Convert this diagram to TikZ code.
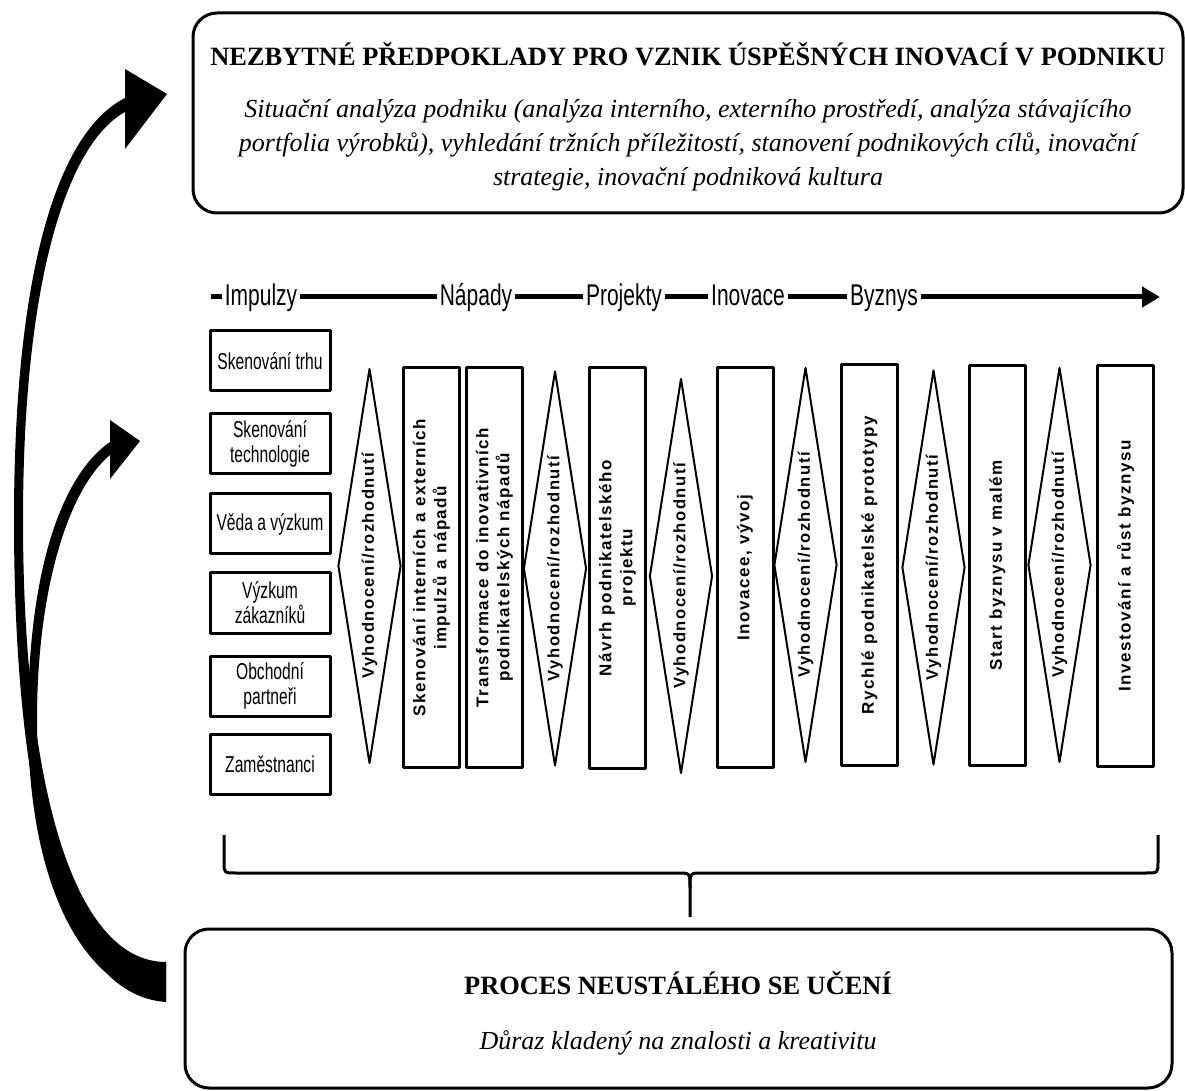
\documentclass[tikz,border=0pt]{standalone}
\usepackage{fontspec}
\setmainfont{Liberation Serif}
\newfontfamily\narrowsans[FakeStretch=0.7]{Liberation Sans}
\newfontfamily\tightsans[FakeStretch=0.68]{Liberation Sans}
\newfontfamily\spacedsans[LetterSpace=9]{Liberation Sans}
\usetikzlibrary{arrows.meta,shapes.geometric}

\begin{document}
\begin{tikzpicture}[x=0.5pt,y=-0.5pt,line join=round,
  bigbox/.style={draw,line width=1.5pt,rounded corners=12pt,inner sep=0pt},
  srcbox/.style={draw,line width=1.5pt,minimum width=60pt,minimum height=30pt,inner sep=1pt,align=center,
    font=\tightsans\fontsize{11.5}{12.5}\selectfont},
  stagebox/.style={draw,line width=1.5pt,rotate=90,minimum width=200pt,minimum height=28pt,inner sep=1pt,align=center,
    font=\spacedsans\bfseries\fontsize{8.5}{10.5}\selectfont},
  gate/.style={draw,diamond,line width=1pt,rotate=90,aspect=6.3,minimum width=197.5pt,minimum height=31.5pt,inner sep=0pt,
    font=\spacedsans\bfseries\fontsize{8.3}{10}\selectfont},
  phase/.style={fill=white,inner sep=1.5pt,anchor=base,font=\narrowsans\fontsize{15}{16}\selectfont}]
  \useasboundingbox (0,0) rectangle (1185,1091);
  % horni ramec
  \node[bigbox,minimum width=495pt,minimum height=100pt] (pre) at (688,113) {};
  \node[font=\bfseries\fontsize{13.2}{15}\selectfont] (pretitle) at (688,54)
    {NEZBYTNÉ PŘEDPOKLADY PRO VZNIK ÚSPĚŠNÝCH INOVACÍ V PODNIKU};
  \node[font=\itshape\fontsize{13}{17}\selectfont,align=center] (pretext) at (688,145)
    {Situační analýza podniku (analýza interního, externího prostředí, analýza stávajícího\\
     portfolia výrobků), vyhledání tržních příležitostí, stanovení podnikových cílů, inovační\\
     strategie, inovační podniková kultura};
  % faze
  \coordinate (flowstart) at (211,297);
  \coordinate (flowend) at (1160,297);
  \draw[line width=2.5pt,-{Triangle[length=9pt,width=10pt]}] (flowstart) -- (flowend);
  \node[phase] (impulzy) at (261,306) {Impulzy};
  \node[phase] (napady) at (476,306) {Nápady};
  \node[phase] (projekty) at (624,306) {Projekty};
  \node[phase] (inovace) at (748,306) {Inovace};
  \node[phase] (byznys) at (884,306) {Byznys};
  % zdroje impulzu
  \node[srcbox] (trh) at (270,361) {Skenování trhu};
  \node[srcbox] (tech) at (270,444) {Skenování\\technologie};
  \node[srcbox] (veda) at (270,524) {Věda a výzkum};
  \node[srcbox] (zakaznici) at (270,603) {Výzkum\\zákazníků};
  \node[srcbox] (partneri) at (270,686) {Obchodní\\partneři};
  \node[srcbox] (zamestnanci) at (270,764) {Zaměstnanci};
  % etapy a rozhodovani
  \node[gate] (gate1) at (369.5,566) {Vyhodnocení/rozhodnutí};
  \node[stagebox] (skenovani) at (431.5,567.5) {Skenování interních a externích\\impulzů a nápadů};
  \node[stagebox] (transformace) at (494.5,567.5) {Transformace do inovativních\\podnikatelských nápadů};
  \node[gate] (gate2) at (555,568.5) {Vyhodnocení/rozhodnutí};
  \node[stagebox] (navrh) at (617.5,568) {Návrh podnikatelského\\projektu};
  \node[gate] (gate3) at (681,576) {Vyhodnocení/rozhodnutí};
  \node[stagebox] (vyvoj) at (745,567.5) {Inovacee, vývoj};
  \node[gate] (gate4) at (805.5,565) {Vyhodnocení/rozhodnutí};
  \node[stagebox] (prototypy) at (869.5,565) {Rychlé podnikatelské prototypy};
  \node[gate] (gate5) at (933.5,567.5) {Vyhodnocení/rozhodnutí};
  \node[stagebox] (start) at (997.5,565.5) {Start byznysu v malém};
  \node[gate] (gate6) at (1059.5,565) {Vyhodnocení/rozhodnutí};
  \node[stagebox] (rust) at (1125.5,566) {Investování a růst byznysu};
  % zavorka
  \draw[line width=1.5pt] (224,835) -- (224,862) .. controls (224,873) .. (236,873) -- (678,873)
    .. controls (690,873) .. (690,888) -- (690,917);
  \draw[line width=1.5pt] (690,888) .. controls (690,873) .. (702,873) -- (1146,873)
    .. controls (1158,873) .. (1158,862) -- (1158,835);
  % spodni ramec
  \node[bigbox,minimum width=493.5pt,minimum height=79.5pt] (learn) at (678.5,1008.5) {};
  \node[font=\bfseries\fontsize{13.2}{15}\selectfont] (learntitle) at (678,983) {PROCES NEUSTÁLÉHO SE UČENÍ};
  \node[font=\itshape\fontsize{13}{17}\selectfont] (learntext) at (678,1043) {Důraz kladený na znalosti a kreativitu};
  % zpetne sipky
  \fill (166,1002) .. controls (60,995) and (14,800) .. (14,520) .. controls (14,270) and (58,132) .. (125,98)
    -- (125,69) -- (167,94) -- (125,149) -- (125,112)
    .. controls (70,142) and (23,272) .. (23,520) .. controls (23,780) and (72,962) .. (166,962) -- cycle;
  \fill (166,1000) .. controls (80,990) and (28,880) .. (28,720) .. controls (28,580) and (58,478) .. (110,442)
    -- (110,420) -- (140,441) -- (110,479) -- (110,455)
    .. controls (68,490) and (37,590) .. (37,720) .. controls (37,870) and (90,964) .. (166,964) -- cycle;
\end{tikzpicture}
\end{document}
